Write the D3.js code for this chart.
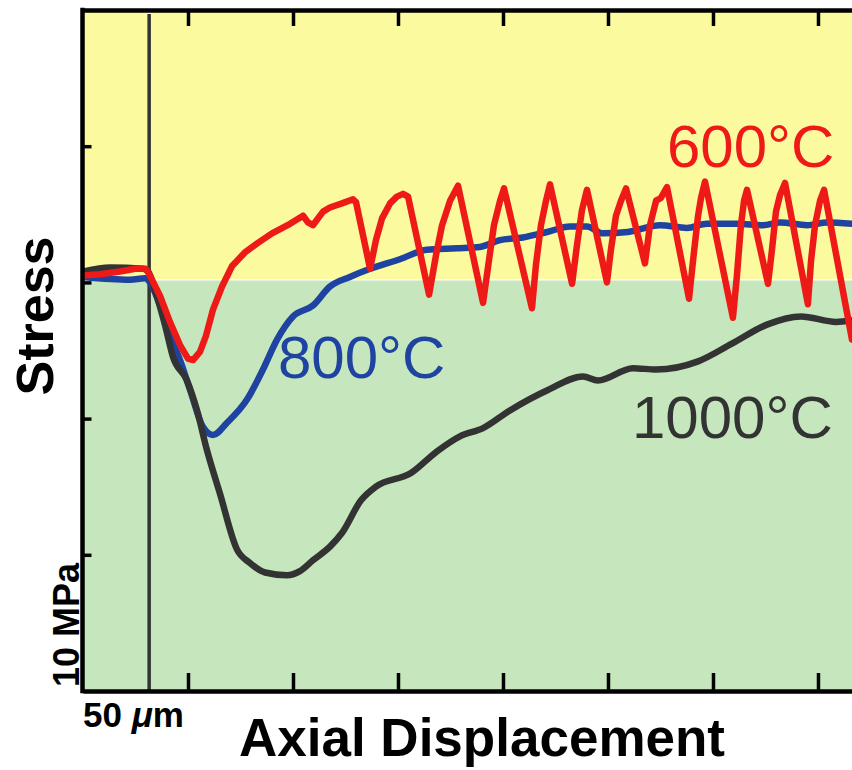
<!DOCTYPE html>
<html>
<head>
<meta charset="utf-8">
<script src="https://cdn.jsdelivr.net/npm/d3@7"></script>
<style>
  body { margin: 0; background: #fff; }
  svg { display: block; font-family: "Liberation Sans", Arial, Helvetica, sans-serif; }
</style>
</head>
<body>
<div id="chart"></div>
<script>
// axial displacement in um, stress in MPa
const red600x = [0, 8.1, 17.6, 24.8, 30.0, 31.9, 36.7, 41.4, 46.2, 50.0, 52.4, 55.7, 58.6, 61.9, 66.2, 71.0, 77.1, 83.3, 90.0, 98.6, 104.8, 107.1, 109.5, 114.3, 117.6, 123.3, 128.6, 130.0,
  136.7, 139.5, 142.4, 146.2, 149.5, 152.4, 154.8, 164.8, 168.1, 171.0, 174.8, 178.6, 190.5, 193.3, 195.7, 198.6, 200.5,
  213.8, 215.7, 218.1, 220.5, 222.4, 232.9, 235.2, 237.6, 240.0, 249.5, 251.4, 253.8, 256.2, 258.6, 267.6, 270.0, 272.9, 275.2, 278.1,
  288.6, 290.5, 292.9, 294.3, 296.2, 309.5, 311.4, 313.3, 314.8, 316.2, 326.2, 328.1, 330.0, 331.9, 334.3, 345.2, 346.7, 348.6, 351.0, 352.9, 366.2];
const red600y = [30.5, 30.6, 30.8, 31.0, 31.0, 30.5, 29.0, 27.1, 25.4, 24.4, 24.3, 24.9, 26.1, 28.0, 29.7, 31.2, 32.2, 32.9, 33.6, 34.3, 34.9, 34.4, 34.2, 35.2, 35.5, 35.8, 36.1, 35.9,
  31.0, 33.1, 34.7, 35.8, 36.3, 36.5, 36.3, 29.1, 32.0, 34.2, 36.0, 37.1, 28.5, 31.6, 34.2, 36.0, 36.9,
  28.1, 31.3, 34.2, 36.0, 37.2, 29.9, 32.7, 35.3, 36.8, 30.0, 32.4, 34.9, 36.0, 36.9, 31.4, 34.2, 36.0, 36.2, 37.0,
  28.8, 31.6, 34.9, 36.2, 37.4, 27.4, 30.5, 34.2, 36.0, 36.8, 29.9, 32.4, 35.2, 36.4, 37.3, 28.4, 31.6, 34.2, 36.0, 36.8, 25.8];

const blue800x = [0, 22.4, 29.5, 31.9, 36.7, 41.4, 46.2, 51.0, 57.1, 61.9, 68.6, 78.1, 85.7, 92.4, 100.0, 109.5, 117.6, 127.1, 136.7, 150.9, 163.8, 178.1, 189.0, 198.6,
  209.5, 221.0, 231.9, 240.0, 247.6, 259.5, 274.8, 287.6, 297.1, 311.4, 323.8, 331.9, 344.8, 354.3, 366.2];
const blue800y = [30.4, 30.2, 30.3, 30.0, 28.3, 26.1, 24.3, 22.1, 19.4, 18.8, 19.7, 21.4, 23.6, 25.8, 27.5, 28.3, 29.7, 30.4, 31.0, 31.7, 32.4, 32.5, 32.6, 33.1,
  33.3, 33.7, 34.1, 34.1, 33.6, 33.7, 34.2, 34.0, 34.3, 34.3, 34.2, 34.4, 34.2, 34.4, 34.3];

const black1000x = [0, 12.9, 28.6, 31.0, 34.3, 39.0, 42.9, 49.5, 54.3, 59.0, 65.2, 73.3, 79.5, 86.7, 97.1, 103.3, 109.5, 117.6, 123.3, 132.4, 139.5, 156.2, 168.6, 179.5,
  190.5, 203.3, 221.4, 238.1, 245.2, 261.9, 272.9, 292.9, 309.0, 325.7, 341.9, 358.6, 366.2];
const black1000y = [30.8, 31.1, 31.0, 30.8, 29.4, 26.9, 24.5, 22.8, 20.6, 17.7, 14.5, 10.4, 9.4, 8.7, 8.5, 8.8, 9.6, 10.6, 11.6, 14.0, 15.0, 16.0, 17.6, 18.7,
  19.3, 20.6, 22.1, 23.1, 22.8, 23.7, 23.6, 24.2, 25.5, 26.9, 27.5, 27.1, 27.2];

const xTicks = [50, 100, 150, 200, 250, 300, 350];
const yTicks = [10, 20, 30, 40];
const notchX = 31.5;      // vertical marker line
const bandSplit = 30.2;   // yellow above, green below
const labels = ["600\u00B0C", "800\u00B0C", "1000\u00B0C"];

const W = 852, H = 770;
const plotL = 83, plotR = 852, plotT = 10, plotB = 691;

const svg = d3.select('#chart').append('svg')
    .attr('width', W)
    .attr('height', H);

const x = d3.scaleLinear().domain([0, 366.2]).range([plotL, plotR]);
const y = d3.scaleLinear().domain([0, 50]).range([plotB, plotT]);

svg.append('defs').append('clipPath').attr('id', 'plotclip')
    .append('rect')
    .attr('x', plotL).attr('y', plotT)
    .attr('width', plotR - plotL).attr('height', plotB - plotT);

// background bands
svg.append('rect')
    .attr('x', plotL).attr('y', y(50))
    .attr('width', plotR - plotL).attr('height', y(bandSplit) - y(50))
    .attr('fill', '#fcfa9f');
svg.append('rect')
    .attr('x', plotL).attr('y', y(bandSplit))
    .attr('width', plotR - plotL).attr('height', y(0) - y(bandSplit))
    .attr('fill', '#c6e7bd');
svg.append('line')
    .attr('x1', plotL).attr('x2', plotR)
    .attr('y1', y(bandSplit)).attr('y2', y(bandSplit))
    .attr('stroke', '#ffffff').attr('stroke-width', 1.5);

// notch marker
svg.append('line')
    .attr('x1', x(notchX)).attr('x2', x(notchX))
    .attr('y1', y(49.7)).attr('y2', y(0))
    .attr('stroke', '#333333').attr('stroke-width', 3.5);

// curves
const plot = svg.append('g').attr('clip-path', 'url(#plotclip)');

function drawCurve(xs, ys, color, curve) {
    const pts = xs.map((d, i) => [d, ys[i]]);
    const line = d3.line()
        .x(d => x(d[0]))
        .y(d => y(d[1]))
        .curve(curve);
    plot.append('path')
        .datum(pts)
        .attr('fill', 'none')
        .attr('stroke', color)
        .attr('stroke-width', 6.5)
        .attr('stroke-linejoin', 'round')
        .attr('stroke-linecap', 'round')
        .attr('d', line);
}

drawCurve(blue800x, blue800y, '#1f43a0', d3.curveMonotoneX);
drawCurve(black1000x, black1000y, '#333333', d3.curveMonotoneX);
drawCurve(red600x, red600y, '#ee1a17', d3.curveLinear);

// axes (inward ticks, frame lines)
const axTop = svg.append('g')
    .attr('transform', `translate(0,${plotT})`)
    .call(d3.axisTop(x).tickValues(xTicks).tickSize(-16).tickSizeOuter(0).tickFormat(''));
const axBottom = svg.append('g')
    .attr('transform', `translate(0,${plotB})`)
    .call(d3.axisBottom(x).tickValues(xTicks).tickSize(-18).tickSizeOuter(0).tickFormat(''));
const axLeft = svg.append('g')
    .attr('transform', `translate(${plotL - 0.5},0)`)
    .call(d3.axisLeft(y).tickValues(yTicks).tickSize(-9).tickSizeOuter(0).tickFormat(''));

[axTop, axBottom, axLeft].forEach(g => {
    g.select('.domain').attr('stroke', '#000').attr('stroke-width', 4.5);
    g.selectAll('.tick line').attr('stroke', '#000').attr('stroke-width', 3.5);
});
axLeft.select('.domain').attr('d', `M0,${plotT - 2.2}V${plotB + 2.2}`);

// curve labels
svg.append('text')
    .attr('x', 667).attr('y', 167)
    .attr('fill', '#ee1a17').attr('font-size', 60)
    .text(labels[0]);
svg.append('text')
    .attr('x', 278).attr('y', 378)
    .attr('fill', '#1f43a0').attr('font-size', 60)
    .text(labels[1]);
svg.append('text')
    .attr('x', 632).attr('y', 438)
    .attr('fill', '#333333').attr('font-size', 60)
    .text(labels[2]);

// axis titles and scale bars
svg.append('text')
    .attr('transform', 'translate(53,316) rotate(-90)')
    .attr('text-anchor', 'middle')
    .attr('font-weight', 'bold').attr('font-size', 52)
    .text('Stress');

svg.append('text')
    .attr('transform', 'translate(79,687) rotate(-90)')
    .attr('font-weight', 'bold').attr('font-size', 36)
    .text('10 MPa');

const scaleLbl = svg.append('text')
    .attr('x', 83).attr('y', 727)
    .attr('font-weight', 'bold').attr('font-size', 35);
scaleLbl.append('tspan').text('50 ');
scaleLbl.append('tspan').attr('font-style', 'italic').text('\u03BC');
scaleLbl.append('tspan').text('m');

svg.append('text')
    .attr('x', 482).attr('y', 756)
    .attr('text-anchor', 'middle')
    .attr('font-weight', 'bold').attr('font-size', 53)
    .text('Axial Displacement');
</script>
</body>
</html>
